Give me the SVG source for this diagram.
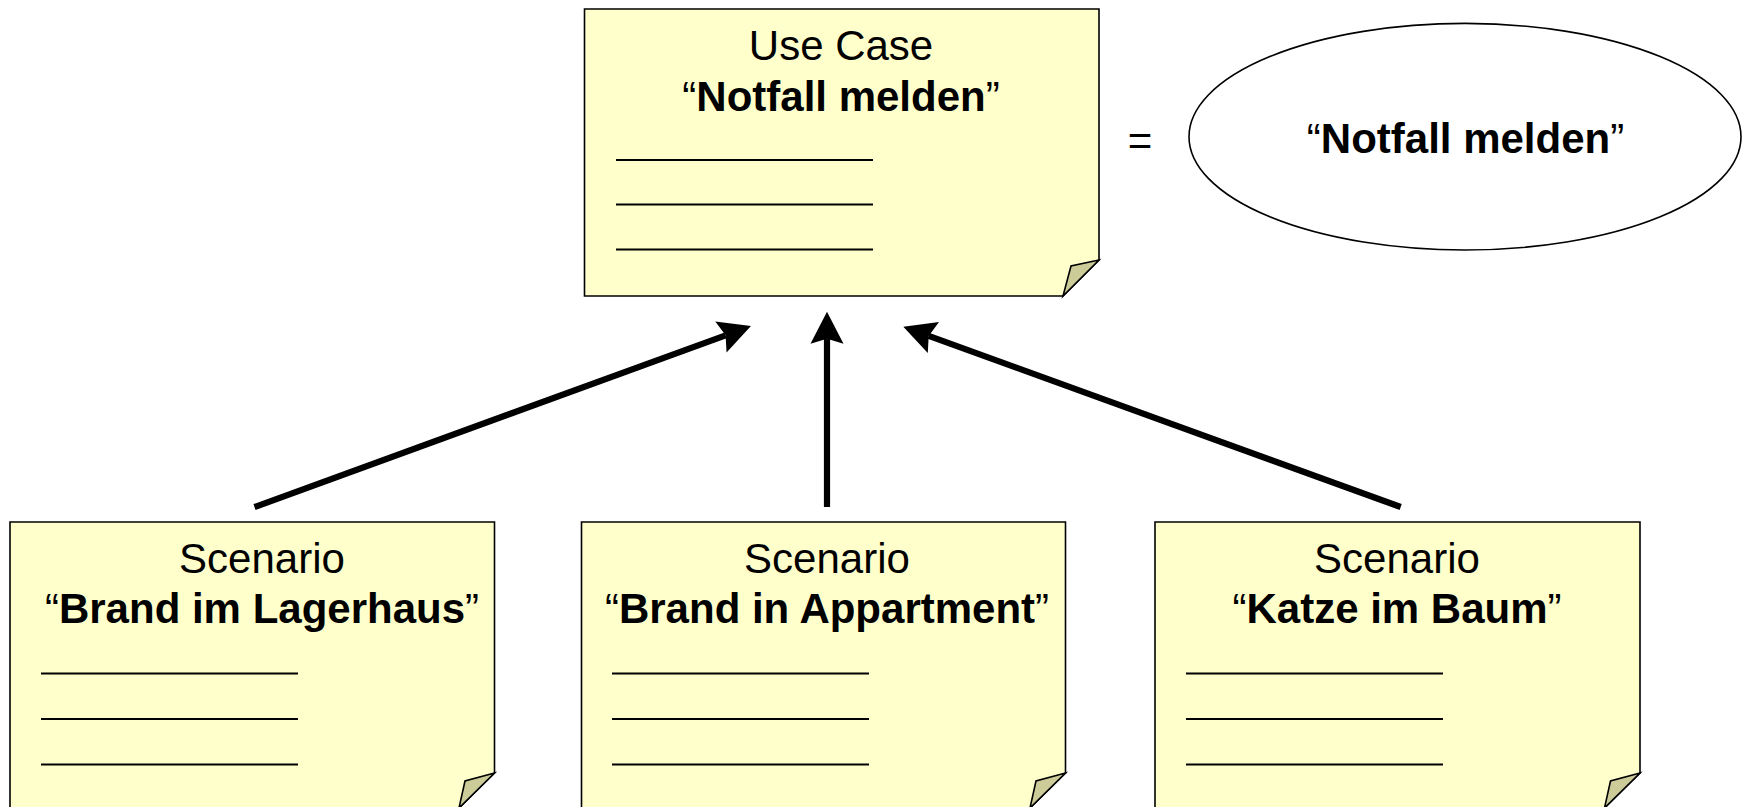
<svg xmlns="http://www.w3.org/2000/svg" width="1750" height="807" viewBox="0 0 1750 807">
<style>
.note{fill:#ffffcc;stroke:#000;stroke-width:1.6}
.fold{fill:#cccc99;stroke:#000;stroke-width:1.6;stroke-linejoin:miter}
.rule{stroke:#000;stroke-width:2.2}
.t{font-family:"Liberation Sans",Arial,sans-serif;font-size:42px;fill:#000;text-anchor:middle}
.b{font-weight:bold}
.conn{stroke:#000;stroke-width:6.2;fill:none}
</style>
<defs>
<marker id="ah" markerUnits="userSpaceOnUse" markerWidth="44" markerHeight="44" viewBox="-4 -22 44 44" refX="5" refY="0" orient="auto">
<path d="M0,-16.5 L32,0 L0,16.5 L5,0 Z" fill="#000"/>
</marker>
</defs>
<rect width="1750" height="807" fill="#fff"/>
<g id="usecase-note">
<path class="note" d="M584.5,9 H1099 V260 L1063,296 H584.5 Z"/>
<path class="fold" d="M1099,260 L1071,266 L1063,296 Z"/>
<text class="t" x="841" y="60">Use Case</text>
<text class="t" x="841" y="111">“<tspan class="b">Notfall melden</tspan>”</text>
<line class="rule" x1="616" y1="160" x2="873" y2="160"/>
<line class="rule" x1="616" y1="204.5" x2="873" y2="204.5"/>
<line class="rule" x1="616" y1="249.5" x2="873" y2="249.5"/>
</g>
<g id="equals">
<text class="t" x="1140" y="155">=</text>
</g>
<g id="usecase-ellipse">
<ellipse cx="1465" cy="136.7" rx="276" ry="113.3" fill="#fff" stroke="#000" stroke-width="1.6"/>
<text class="t" x="1465.5" y="153">“<tspan class="b">Notfall melden</tspan>”</text>
</g>
<g id="scenario-1">
<path class="note" d="M10,522 H494.5 V773 L459,808 V830 H10 Z"/>
<path class="fold" d="M494.5,773 L465,781 L459,808 Z"/>
<text class="t" x="262" y="573">Scenario</text>
<text class="t" x="262" y="623">“<tspan class="b">Brand im Lagerhaus</tspan>”</text>
<line class="rule" x1="41" y1="673.5" x2="298" y2="673.5"/>
<line class="rule" x1="41" y1="719" x2="298" y2="719"/>
<line class="rule" x1="41" y1="764.5" x2="298" y2="764.5"/>
</g>
<g id="scenario-2">
<path class="note" d="M581.5,522 H1065.5 V773 L1030,808 V830 H581.5 Z"/>
<path class="fold" d="M1065.5,773 L1036,781 L1030,808 Z"/>
<text class="t" x="827" y="573">Scenario</text>
<text class="t" x="827" y="623">“<tspan class="b">Brand in Appartment</tspan>”</text>
<line class="rule" x1="612" y1="673.5" x2="869" y2="673.5"/>
<line class="rule" x1="612" y1="719" x2="869" y2="719"/>
<line class="rule" x1="612" y1="764.5" x2="869" y2="764.5"/>
</g>
<g id="scenario-3">
<path class="note" d="M1155,522 H1640 V773 L1604.5,808 V830 H1155 Z"/>
<path class="fold" d="M1640,773 L1610.5,781 L1604.5,808 Z"/>
<text class="t" x="1397" y="573">Scenario</text>
<text class="t" x="1397" y="623">“<tspan class="b">Katze im Baum</tspan>”</text>
<line class="rule" x1="1186" y1="673.5" x2="1443" y2="673.5"/>
<line class="rule" x1="1186" y1="719" x2="1443" y2="719"/>
<line class="rule" x1="1186" y1="764.5" x2="1443" y2="764.5"/>
</g>
<g id="connectors">
<line class="conn" x1="254.5" y1="507" x2="725.6" y2="335.3" marker-end="url(#ah)"/>
<line class="conn" x1="827" y1="507" x2="827" y2="338.7" marker-end="url(#ah)"/>
<line class="conn" x1="1400.7" y1="507" x2="928.7" y2="335.9" marker-end="url(#ah)"/>
</g>
</svg>
